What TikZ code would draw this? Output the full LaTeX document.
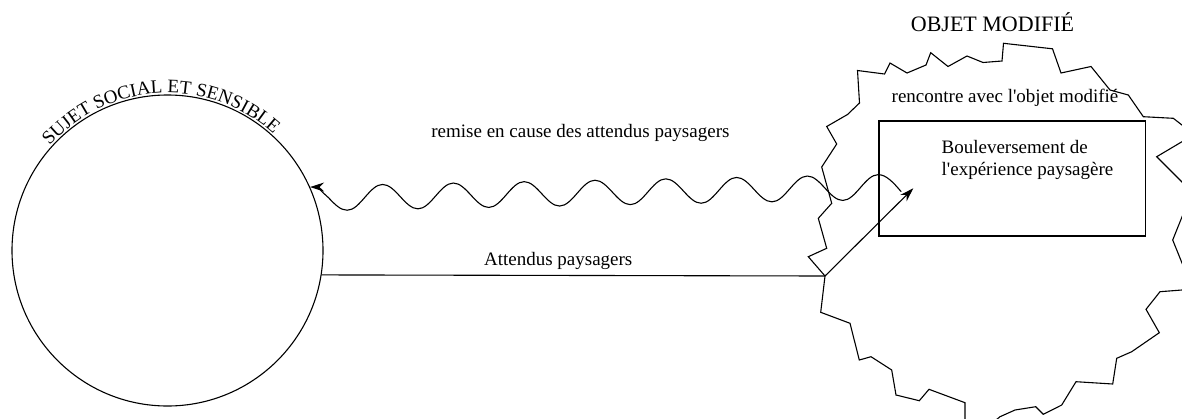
\documentclass[tikz,border=0pt]{standalone}
\usepackage{fontspec}
\setmainfont{Liberation Serif}
\newfontfamily\plainserif{Liberation Serif}
\usetikzlibrary{arrows.meta,decorations.text}

\begin{document}
\begin{tikzpicture}[x=1pt,y=1pt,line width=1.1pt,inner sep=0pt,
  every node/.style={font=\plainserif\fontsize{19}{21.7}\selectfont},
  fl/.style={-{Stealth[length=14pt,width=9pt]}}]
\useasboundingbox (0,0) rectangle (1182,-418);

\node[circle,draw,minimum size=311pt] (S) at (167.5,-250.5) {};
\node[draw,minimum width=266.7pt,minimum height=115pt] (B) at (1012.3,-178.5) {};
\coordinate (C) at (825,-276);
\coordinate (P) at (913.3,-188.3);

% contour de l'objet
\begin{scope}
\clip (0,0) rectangle (1182,-418);
\draw (C) -- (808.3,-256.7) -- (826.7,-248.3) -- (818.3,-218.3) -- (831.7,-203.3)
  -- (821.7,-167) -- (836.7,-144) -- (826.7,-126.5) -- (847.5,-114.5) -- (859.5,-103)
  -- (857.5,-70.5) -- (884.5,-74) -- (890,-63) -- (907,-73) -- (926,-65)
  -- (930.7,-52.7) -- (948,-66.5) -- (967,-56) -- (983,-62.5) -- (1002,-61)
  -- (1003.5,-43.3) -- (1052.5,-48.8) -- (1061,-73) -- (1091,-66.5) -- (1110,-90)
  -- (1128.3,-95) -- (1143.3,-116.7) -- (1173.3,-118.3) -- (1200,-139) -- (1200,-131)
  -- (1156.7,-156.7) -- (1200,-200) -- (1200,-172) -- (1172.7,-240) -- (1200,-307.6)
  -- (1200,-288.6) -- (1160,-291.7) -- (1146,-309.3) -- (1159.3,-332.7) -- (1131.7,-351.7)
  -- (1116.7,-358.3) -- (1112.7,-384) -- (1076,-381.7) -- (1061.7,-405) -- (1043.3,-414.3)
  -- (1035.7,-406.7) -- (1015,-410) -- (1000,-416.7) -- (990,-425) -- (965,-425)
  -- (965,-402.7) -- (929,-389.3) -- (919.3,-400.7) -- (896,-395) -- (891.7,-370)
  -- (871,-356.7) -- (859.3,-360) -- (850,-323.3) -- (820.7,-312.3) -- cycle;
\end{scope}

\path[decorate,decoration={text along path,text align=center,
  text={|\plainserif\fontsize{19}{19}\selectfont|SUJET SOCIAL ET SENSIBLE}}]
  (S.center) ++(143:157.5pt) arc[start angle=143,end angle=43,radius=157.5pt];

\node[anchor=base,font=\plainserif\fontsize{22}{24}\selectfont] (O) at (992.5,-31.7) {OBJET MODIFIÉ};
\node[anchor=base] (M) at (1005,-102.7) {rencontre avec l'objet modifié};
\node[anchor=north west,align=left] (T) at ([shift={(62.7,-19.3)}]B.north west)
  {Bouleversement de\\l'expérience paysagère};
\node[anchor=base] (R) at (580.4,-137.7) {remise en cause des attendus paysagers};

\path (S.-9.4) edge node[above=5.4pt,pos=0.47] {Attendus paysagers} (C);
\draw[fl] (C) -- (P);
\draw[{Stealth[length=14pt,width=9pt]}-] (S.24) cos ++(18.5,-10.7) sin ++(18.6,-12.5)
  \foreach \i in {1,...,7}{ cos ++(17.7,12.9) sin ++(17.7,12.9) cos ++(17.7,-12.2) sin ++(17.7,-12.2) }
  cos ++(17.7,12.9) sin ++(17.7,12.9) cos ++(23,-17);
\end{tikzpicture}
\end{document}
